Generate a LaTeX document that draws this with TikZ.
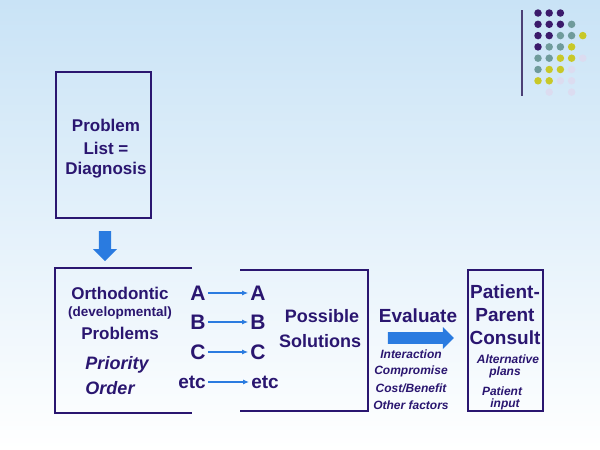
\documentclass[tikz,border=0pt]{standalone}
\usepackage{fontspec}
\setmainfont{Liberation Sans}
\usetikzlibrary{arrows.meta,shapes.arrows}
\definecolor{ink}{HTML}{2A1670}
\definecolor{dP}{HTML}{3B1A6B}
\definecolor{dT}{HTML}{6F9B9B}
\definecolor{dY}{HTML}{C8C828}
\definecolor{dL}{HTML}{DCDCF0}
\definecolor{bgtop}{HTML}{C9E3F6}
\definecolor{arr}{HTML}{2A7BE0}
\begin{document}
\begin{tikzpicture}[x=1pt,y=-1pt,
  t/.style={text=ink,font=\bfseries\fontsize{17}{17}\selectfont,inner sep=0pt},
  big/.style={text=ink,font=\bfseries\fontsize{21}{21}\selectfont,inner sep=0pt},
  mid/.style={text=ink,font=\bfseries\fontsize{19}{19}\selectfont,inner sep=0pt},
  sm/.style={text=ink,font=\bfseries\itshape\fontsize{12}{12}\selectfont,inner sep=0pt},
  ln/.style={draw=ink,line width=1.3pt},
  la/.style={draw=arr,line width=1.3pt,shorten <=2pt,shorten >=2pt,-{Latex[length=6pt,width=5pt]}},
  dot/.style={circle,inner sep=0pt,minimum size=7.5pt}]
\shade[top color=bgtop,bottom color=white] (0,0) rectangle (600,450);
\useasboundingbox (0,0) rectangle (600,450);
% top box
\node[ln,minimum width=95pt,minimum height=146pt] (pl) at (103.5,145) {};
\node[t] (p1) at (106,125) {Problem};
\node[t] (p2) at (106,148) {List =};
\node[t] (p3) at (106,170) {Diagnosis};
\node[single arrow,shape border rotate=270,fill=arr,minimum height=30pt,minimum width=24pt,single arrow head extend=3pt,inner sep=3pt] (da) at (105,243) {};
% open left box
\draw[ln] (192,268) -- (55,268) -- (55,413) -- (192,413);
\node[t] at (120,293) {Orthodontic};
\node[text=ink,font=\bfseries\fontsize{13.5}{13.5}\selectfont,inner sep=0pt] at (120,313) {(developmental)};
\node[t] at (120,333) {Problems};
\node[mid,font=\bfseries\itshape\fontsize{18}{18}\selectfont] at (117,365) {Priority};
\node[mid,font=\bfseries\itshape\fontsize{18}{18}\selectfont] at (110,388) {Order};
% right open box
\draw[ln] (240,270) -- (368,270) -- (368,411) -- (240,411);
\foreach \n/\l/\y in {a/A/293,b/B/322,c/C/352}{
  \node[big] (L\n) at (198,\y) {\l};
  \node[big] (R\n) at (258,\y) {\l};
  \draw[la] (L\n) -- (R\n);
}
\node[mid] (Ld) at (192,382) {etc};
\node[mid] (Rd) at (265,382) {etc};
\draw[la] (Ld) -- (Rd);
\node[mid,font=\bfseries\fontsize{18}{18}\selectfont] at (322,316) {Possible};
\node[mid,font=\bfseries\fontsize{18}{18}\selectfont] at (320,341) {Solutions};
\node[mid] at (418,316) {Evaluate};
\node[single arrow,fill=arr,minimum height=66pt,minimum width=22pt,single arrow head extend=2pt,inner sep=2pt] (ea) at (418,338) {};
\node[sm] at (411,354) {Interaction};
\node[sm] at (411,371) {Compromise};
\node[sm] at (411,388) {Cost/Benefit};
\node[sm] at (411,405) {Other factors};
% patient box
\node[ln,minimum width=75pt,minimum height=141pt] (pb) at (505.5,340.5) {};
\node[mid] at (505,292) {Patient-};
\node[mid] at (505,315) {Parent};
\node[mid] at (505,338) {Consult};
\node[sm] at (508,359) {Alternative};
\node[sm] at (505,372) {plans};
\node[sm] at (502,391) {Patient};
\node[sm] at (505,404) {input};
% decoration
\draw[draw=ink!60!gray,line width=1.2pt] (522,10) -- (522,96);
\foreach \row [count=\r from 0] in {{P,P,P,N,N},{P,P,P,T,N},{P,P,T,T,Y},{P,T,T,Y,N},{T,T,Y,Y,L},{T,Y,Y,L,N},{Y,Y,L,L,N},{N,L,N,L,N}}{
  \foreach \c [count=\k from 0] in \row {
    \if\c N\else
      \node[dot,fill=d\c] at (538+11.2*\k,13+11.3*\r) {};
    \fi
  }
}
\end{tikzpicture}
\end{document}
